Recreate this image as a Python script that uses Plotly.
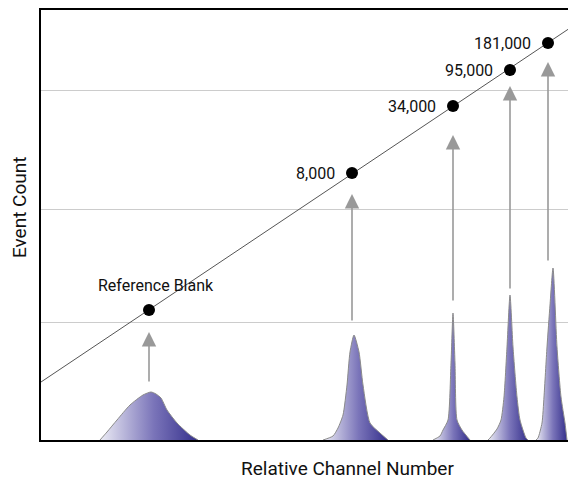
import plotly.graph_objects as go

# Points on the calibration line (channel, event-count-axis position)
labels = ["Reference Blank", "8,000", "34,000", "95,000", "181,000"]
point_x = [108, 311, 412, 469, 507]
point_y = [130, 267, 334, 370, 397]

# Calibration line end points
line_x = [0, 535]
line_y = [58, 416]

# Arrow tails (peak tops) and tips (just below each point)
arrow_tail_y = [57, 118, 138, 150, 178]
arrow_tip_y = [108, 246, 305, 354, 378]

# Peak outlines (channel, count)
peak1_x = [59, 66, 76, 89, 102, 110, 115, 120, 126, 136, 149, 157]
peak1_y = [0, 8, 20, 35, 45, 48, 46, 42, 30, 17, 5, 0]
peak2_x = [282, 292, 297, 302, 306, 309, 313, 318, 322, 329, 339, 347]
peak2_y = [0, 4, 12, 25, 55, 88, 105, 88, 55, 17, 7, 0]
peak3_x = [392, 399, 402, 407, 410, 412, 414, 416, 421, 429]
peak3_y = [0, 4, 10, 20, 77, 127, 77, 20, 10, 0]
peak4_x = [447, 449, 456, 460, 463, 466, 469, 472, 476, 479, 485, 487]
peak4_y = [0, 2, 11, 20, 43, 93, 145, 93, 43, 20, 2, 0]
peak5_x = [495, 497, 501, 503, 506, 509, 512, 516, 520, 524, 526]
peak5_y = [0, 2, 17, 43, 93, 135, 172, 93, 43, 17, 0]

grid_vals = [118, 231, 350]

fig = go.Figure()

peaks = [(peak1_x, peak1_y), (peak2_x, peak2_y), (peak3_x, peak3_y),
         (peak4_x, peak4_y), (peak5_x, peak5_y)]
for px, py in peaks:
    fig.add_trace(go.Scatter(
        x=px, y=py, mode="lines", fill="toself",
        line=dict(color="#8a8a8a", width=1, shape="spline", smoothing=0.6),
        fillgradient=dict(type="horizontal",
                          colorscale=[[0, "#ececf5"], [0.55, "#7a74b9"], [1, "#35308c"]]),
        hoverinfo="skip", showlegend=False))

fig.add_trace(go.Scatter(x=line_x, y=line_y, mode="lines",
                         line=dict(color="#555555", width=1), showlegend=False,
                         hoverinfo="skip"))

fig.add_trace(go.Scatter(x=point_x, y=point_y, mode="markers",
                         marker=dict(color="black", size=12), showlegend=False))

font_fam = "Roboto, Liberation Sans, sans-serif"

for i, (lx, ly, lab) in enumerate(zip(point_x, point_y, labels)):
    if i == 0:
        fig.add_annotation(x=lx, y=ly, text=lab, showarrow=False,
                           xanchor="center", yanchor="bottom", yshift=13, xshift=7,
                           font=dict(size=16, color="#111", family=font_fam))
    else:
        fig.add_annotation(x=lx, y=ly, text=lab, showarrow=False,
                           xanchor="right", yanchor="middle", xshift=-15,
                           font=dict(size=16, color="#111", family=font_fam))
    fig.add_annotation(x=lx, y=arrow_tip_y[i], ax=lx, ay=arrow_tail_y[i],
                       xref="x", yref="y", axref="x", ayref="y",
                       showarrow=True, arrowhead=2, arrowsize=1.8, arrowwidth=1.6,
                       arrowcolor="#999999", text="")

# Axis titles
fig.add_annotation(x=0.572, y=-0.067, xref="paper", yref="paper",
                   text="Relative Channel Number",
                   showarrow=False, xanchor="center", yanchor="middle",
                   font=dict(size=19, color="#111", family=font_fam))
fig.add_annotation(x=-0.039, y=0.542, xref="paper", yref="paper", text="Event Count",
                   showarrow=False, xanchor="center", yanchor="middle", textangle=-90,
                   font=dict(size=19, color="#111", family=font_fam))

fig.update_layout(
    width=568, height=472,
    margin=dict(l=33, r=0, t=2, b=40),
    plot_bgcolor="white", paper_bgcolor="white",
    xaxis=dict(range=[0, 535], showgrid=False, zeroline=False, showticklabels=False,
               ticks="", showline=True, linecolor="black", linewidth=1.5, mirror=True),
    yaxis=dict(range=[0, 430], tickvals=grid_vals, showgrid=True, gridcolor="#cccccc",
               gridwidth=1, zeroline=False, showticklabels=False, ticks="",
               showline=True, linecolor="black", linewidth=1.5),
)

fig.write_html("out.html")
